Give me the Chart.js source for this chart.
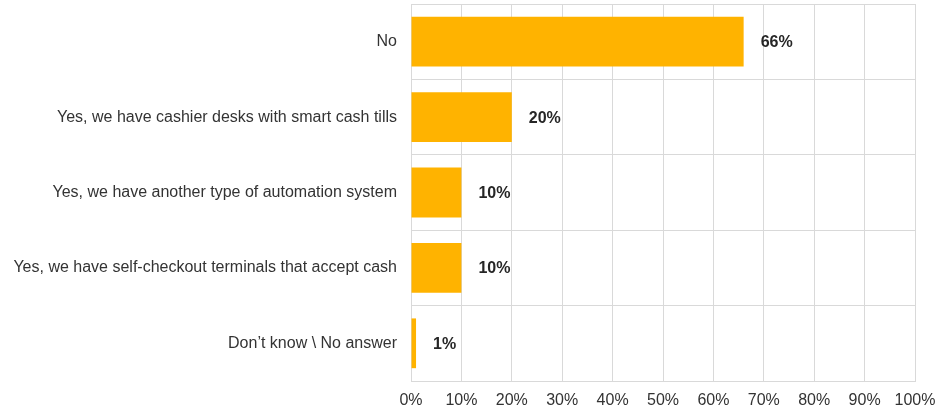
<!DOCTYPE html>
<html>
<head>
<meta charset="utf-8">
<script src="https://cdn.jsdelivr.net/npm/chart.js@4/dist/chart.umd.min.js"></script>
<style>
  html, body { margin: 0; padding: 0; background: #ffffff; }
  #wrap { width: 949px; height: 412px; position: relative; }
</style>
</head>
<body>
<div id="wrap"><canvas id="chart" width="949" height="412"></canvas></div>
<script>
// Survey answers and share of respondents (%)
const categories = [
  'No',
  'Yes, we have cashier desks with smart cash tills',
  'Yes, we have another type of automation system',
  'Yes, we have self-checkout terminals that accept cash',
  'Don\u2019t know \\ No answer'
];
const shares = [66, 20, 10, 10, 1];
const xTicks = [0, 10, 20, 30, 40, 50, 60, 70, 80, 90, 100];

const FONT = '"Liberation Sans", Arial, sans-serif';

// Writes the percentage just past the end of each bar
const valueLabels = {
  id: 'valueLabels',
  afterDatasetsDraw(chart) {
    const ctx = chart.ctx;
    const meta = chart.getDatasetMeta(0);
    ctx.save();
    ctx.font = 'bold 16px ' + FONT;
    ctx.fillStyle = '#262626';
    ctx.textAlign = 'left';
    ctx.textBaseline = 'middle';
    meta.data.forEach((bar, i) => {
      ctx.fillText(shares[i] + '%', bar.x + 17, bar.y + 1);
    });
    ctx.restore();
  }
};

new Chart(document.getElementById('chart'), {
  type: 'bar',
  data: {
    labels: categories,
    datasets: [{
      data: shares,
      backgroundColor: '#FFB300',
      borderWidth: 0,
      barPercentage: 0.66,
      categoryPercentage: 1.0
    }]
  },
  options: {
    indexAxis: 'y',
    responsive: false,
    animation: false,
    layout: { padding: { top: 4, right: 34, left: 0, bottom: 0 } },
    plugins: {
      legend: { display: false },
      tooltip: { enabled: false }
    },
    scales: {
      x: {
        min: 0,
        max: 100,
        afterBuildTicks(scale) {
          scale.ticks = xTicks.map(v => ({ value: v }));
        },
        afterFit(scale) {
          scale.height = 31;
          scale.paddingLeft = 0;
          scale.paddingRight = 0;
        },
        grid: { color: '#d9d9d9', lineWidth: 1, drawTicks: false },
        border: { color: '#d9d9d9' },
        ticks: {
          padding: 10,
          color: '#333333',
          font: { family: FONT, size: 16 },
          callback: v => v + '%'
        }
      },
      y: {
        afterFit(scale) {
          scale.width = 411;
          scale.paddingTop = 0;
          scale.paddingBottom = 0;
        },
        grid: { color: '#d9d9d9', lineWidth: 1, drawTicks: false, offset: true },
        border: { color: '#d9d9d9' },
        ticks: {
          padding: 14,
          color: '#333333',
          font: { family: FONT, size: 16 }
        }
      }
    }
  },
  plugins: [valueLabels]
});
</script>
</body>
</html>
